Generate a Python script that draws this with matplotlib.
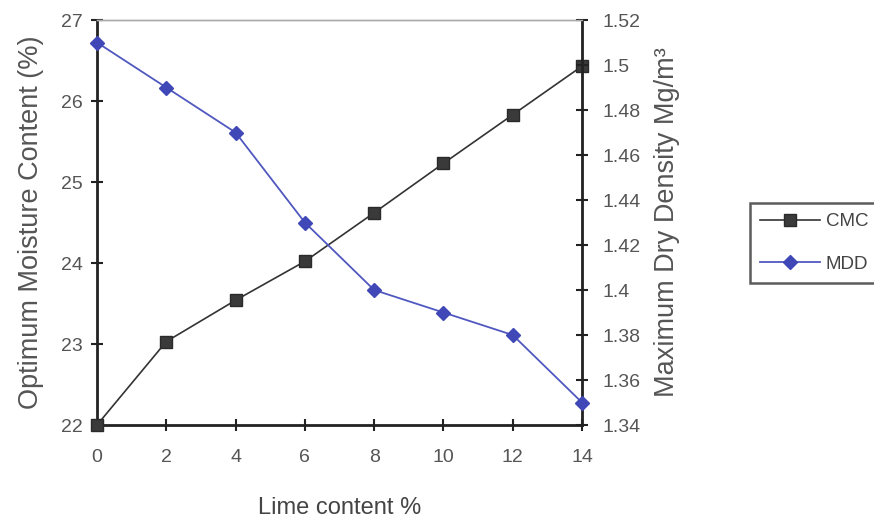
import matplotlib
matplotlib.use('Agg')
import matplotlib.pyplot as plt
from matplotlib.lines import Line2D

plt.rcParams['font.family'] = ['Liberation Sans', 'DejaVu Sans']

# lime content (%)
lime = [0, 2, 4, 6, 8, 10, 12, 14]
# optimum moisture content (%)
cmc = [22.0, 23.03, 23.54, 24.02, 24.62, 25.23, 25.83, 26.43]
# maximum dry density (Mg/m3)
mdd = [1.51, 1.49, 1.47, 1.43, 1.40, 1.39, 1.38, 1.35]

x_ticks = [0, 2, 4, 6, 8, 10, 12, 14]
x_labels = ['0', '2', '4', '6', '8', '10', '12', '14']
left_ticks = [22, 23, 24, 25, 26, 27]
right_ticks = [1.34, 1.36, 1.38, 1.40, 1.42, 1.44, 1.46, 1.48, 1.50, 1.52]
right_labels = ['1.34', '1.36', '1.38', '1.4', '1.42', '1.44', '1.46', '1.48', '1.5', '1.52']

W, H = 874, 524
fig = plt.figure(figsize=(W / 100, H / 100), dpi=100)
# axes box in pixels: left 97, right 582, top 20, bottom 425
ax = fig.add_axes([97 / W, 1 - 425 / H, (582 - 97) / W, (425 - 20) / H])
ax2 = ax.twinx()

dark = '#333333'
blue = '#5058c0'
txt = '#555555'

sq = dict(color=dark, lw=1.2, marker='s', ms=9, mfc='#3a3a3a', mec='#2a2a2a')
dm = dict(color=blue, lw=1.3, marker='D', ms=7.5, mfc='#4048b8', mec='#4048b8')

ax.plot(lime, cmc, clip_on=False, zorder=3, **sq)
ax2.plot(lime, mdd, clip_on=False, zorder=3, **dm)

ax.set_xlim(0, 14)
ax.set_ylim(22, 27)
ax2.set_ylim(1.34, 1.52)

ax.set_xticks(x_ticks)
ax.set_xticklabels(x_labels)
ax.set_yticks(left_ticks)
ax2.set_yticks(right_ticks)
ax2.set_yticklabels(right_labels)

for a in (ax, ax2):
    for s in a.spines.values():
        s.set_color('#aaaaaa')
        s.set_linewidth(1.0)
ax.spines['left'].set_color('#222222')
ax.spines['left'].set_linewidth(2.0)
ax.spines['bottom'].set_color('#222222')
ax.spines['bottom'].set_linewidth(2.0)
ax2.spines['right'].set_color('#222222')
ax2.spines['right'].set_linewidth(2.0)
ax2.spines['left'].set_visible(False)
ax2.spines['bottom'].set_visible(False)

ax.tick_params(axis='x', direction='inout', length=9, width=1.5, color='#222222',
               labelsize=14, labelcolor=txt, pad=13)
ax.tick_params(axis='y', direction='inout', length=9, width=1.5, color='#222222',
               labelsize=14, labelcolor=txt, pad=6)
ax2.tick_params(axis='y', direction='inout', length=9, width=1.5, color='#222222',
                labelsize=14, labelcolor=txt, pad=10)

ax.set_xlabel('Lime content %', fontsize=17, color='#444444', labelpad=22)
ax.set_ylabel('Optimum Moisture Content (%)', fontsize=19.5, color=txt, labelpad=12)
ax2.set_ylabel('Maximum Dry Density Mg/m³', fontsize=19.5, color=txt, labelpad=10)

handles = [Line2D([], [], **sq), Line2D([], [], **dm)]
leg = fig.legend(handles, ['CMC', 'MDD'], loc='upper left',
                 bbox_to_anchor=(750 / W, 1 - 203 / H), fontsize=13.5,
                 frameon=True, fancybox=False, handlelength=3.2, labelspacing=1.35,
                 borderpad=0.55, borderaxespad=0, handletextpad=0.3, labelcolor='#444444')
leg.get_frame().set_edgecolor('#333333')
leg.get_frame().set_linewidth(1.8)

fig.savefig('out.png', dpi=100)
